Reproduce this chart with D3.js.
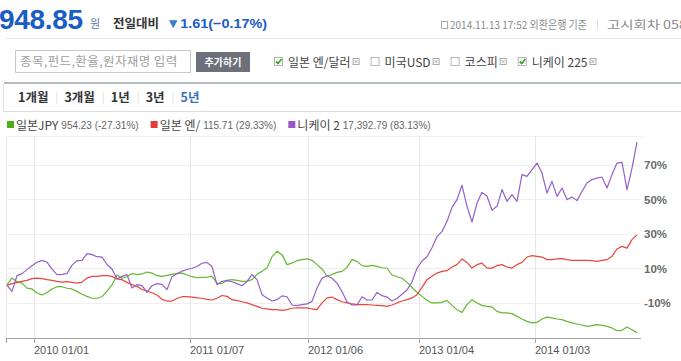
<!DOCTYPE html>
<html><head><meta charset="utf-8">
<script src="https://cdn.jsdelivr.net/npm/d3@7"></script>
<style>
body{margin:0;background:#fff;overflow:hidden}
svg{display:block}
</style></head><body>
<svg id="c" width="681" height="361"></svg>
<script>
// ---------- data ----------
const seriesNames = ["일본JPY", "일본 엔/", "니케이 2"];
const legendValues = ["954.23 (-27.31%)", "115.71 (29.33%)", "17,392.79 (83.13%)"];
const jpy = [0.5,4.3,2.2,1.4,-1.5,-2.0,-4.3,-5.5,-4.0,-2.0,
 -0.7,-0.7,-1.6,-2.0,-3.4,-5.1,-6.3,-7.4,-7.4,-6.5,
 -3.2,0.3,6.1,4.2,5.1,6.9,6.3,6.7,7.8,7.2,
 5.7,5.3,5.9,6.5,6.9,7.2,6.1,5.1,4.5,4.7,
 4.8,5.3,1.4,1.1,3.0,3.4,3.0,2.4,2.4,3.4,
 6.5,8.2,10.1,16.7,19.8,17.9,12.1,13.0,14.4,15.0,
 15.4,14.6,12.1,9.6,5.5,6.3,7.6,8.2,10.5,15.0,
 14.0,11.5,11.1,11.7,11.1,10.3,10.0,6.1,5.1,4.2,
 1.8,-1.0,-4.0,-6.3,-8.6,-10.1,-10.1,-9.8,-8.6,-11.5,
 -14.0,-15.6,-11.1,-8.2,-10.1,-11.5,-12.1,-12.5,-15.0,-15.9,
 -15.9,-16.3,-17.9,-19.4,-20.8,-21.7,-21.4,-19.4,-18.3,-18.8,
 -19.4,-19.8,-20.8,-21.7,-22.3,-22.9,-23.7,-23.3,-22.7,-23.1,
 -23.7,-24.6,-26.2,-26.0,-24.1,-25.6,-27.31];
const usdjpy = [0.1,1.1,1.8,2.4,3.0,4.0,4.3,4.0,3.4,3.0,
 2.4,2.0,2.2,1.8,1.4,2.0,4.3,5.3,5.3,5.7,
 5.7,5.3,3.8,3.4,1.8,0.5,-0.5,-2.3,-3.2,-4.2,
 -5.5,-8.0,-9.0,-9.0,-7.5,-6.5,-6.5,-6.7,-7.2,-7.4,
 -8.0,-8.4,-7.4,-5.8,-6.3,-8.2,-8.8,-9.4,-10.1,-11.1,
 -12.1,-13.2,-13.6,-14.0,-14.0,-14.4,-14.0,-13.2,-12.9,-13.0,
 -13.0,-13.6,-14.0,-10.1,-7.2,-6.7,-8.2,-9.4,-10.1,-10.7,
 -11.1,-11.1,-11.1,-11.3,-11.5,-11.7,-12.1,-11.3,-10.1,-9.0,
 -8.2,-7.2,-5.3,-1.1,3.4,5.3,7.2,8.2,8.6,10.7,
 12.1,15.4,13.4,10.1,12.1,13.0,10.1,10.1,11.5,12.1,
 10.7,10.1,12.1,13.4,16.5,17.3,16.9,16.5,15.0,15.0,
 15.4,15.6,15.0,14.6,14.6,14.6,14.6,14.4,14.0,14.6,
 15.0,16.9,21.2,22.7,21.7,26.6,29.33];
const nikkei = [0.1,-3.4,5.7,6.9,9.2,11.5,13.5,14.6,13.5,9.5,
 6.3,6.5,6.9,11.8,14.4,14.6,18.5,17.9,16.7,16.5,
 12.2,9.6,3.8,5.3,6.3,-1.4,0.5,-0.1,-4.0,-0.1,
 1.1,0.7,-2.4,5.1,6.9,8.3,9.3,10.0,11.0,12.9,
 13.4,11.0,0.5,2.4,2.8,2.2,1.1,-0.1,2.4,6.3,
 3.4,-5.3,-7.2,-9.0,-8.2,-6.0,-6.5,-11.3,-11.7,-11.1,
 -10.7,-9.2,-1.4,4.2,5.7,4.2,1.4,-3.6,-9.4,-11.3,
 -11.3,-6.5,-8.4,-8.4,-4.0,-5.9,-6.7,-9.0,-7.5,-5.1,
 -2.6,2.2,10.0,14.2,16.7,21.9,28.3,31.2,37.2,45.3,
 49.8,58.1,45.9,36.8,47.8,54.0,51.7,43.6,45.9,55.6,
 48.8,52.7,48.8,64.3,63.3,67.2,71.0,65.2,53.6,60.4,
 51.7,56.5,49.8,51.3,49.2,54.6,59.4,61.4,62.3,62.9,
 56.5,64.3,71.0,71.4,55.6,68.0,83.13];
const xTickLabels = ["2010 01/01", "2011 01/07", "2012 01/06", "2013 01/04", "2014 01/03"];
const xTickIndex = [5.4, 36.6, 60.2, 82.4, 105.6];
const yTicks = [-10, 10, 30, 50, 70];
const periods = ["1개월", "3개월", "1년", "3년", "5년"];
const compareNames = ["일본 엔/달러", "미국USD", "코스피", "니케이 225"];
const compareChecked = [true, false, false, true];

// ---------- drawing ----------
const svg = d3.select("#c");
const KR = "'Noto Sans CJK KR', 'Noto Sans', sans-serif";
const LS = "'Liberation Sans', Arial, sans-serif";
const blue = "#1b5cc6";
const colors = ["#64b832", "#e8463e", "#9360c9"];
const legendColors = ["#4fae1c", "#e53a3a", "#9b55c8"];

// header
svg.append("text").attr("x", -1).attr("y", 29).attr("font-family", LS).attr("font-weight", "bold")
  .attr("font-size", 28).attr("letter-spacing", -0.3).attr("fill", blue).text("948.85");
svg.append("text").attr("x", 90).attr("y", 28).attr("font-family", KR).attr("font-size", 11)
  .attr("fill", "#5f79a8").text("원");
svg.append("text").attr("x", 113).attr("y", 28).attr("font-family", KR).attr("font-size", 12.5)
  .attr("font-weight", "bold").attr("fill", "#333").text("전일대비");
const chg = svg.append("text").attr("x", 166).attr("y", 28).attr("font-family", LS).attr("font-size", 13.5)
  .attr("font-weight", "bold").attr("fill", blue).attr("textLength", 101).attr("lengthAdjust", "spacingAndGlyphs");
chg.append("tspan").attr("fill", "#3f78d0").text("▼");
chg.append("tspan").text("1.61(−0.17%)");

// right info
svg.append("rect").attr("x", 441.5).attr("y", 21.5).attr("width", 6).attr("height", 7)
  .attr("fill", "none").attr("stroke", "#aaa");
svg.append("text").attr("x", 450).attr("y", 29).attr("font-family", KR).attr("font-size", 11)
  .attr("fill", "#8a8a8a").attr("textLength", 137).attr("lengthAdjust", "spacingAndGlyphs")
  .text("2014.11.13 17:52 외환은행 기준");
svg.append("line").attr("x1", 597.5).attr("x2", 597.5).attr("y1", 20).attr("y2", 30).attr("stroke", "#ddd");
svg.append("text").attr("x", 607).attr("y", 29).attr("font-family", KR).attr("font-size", 11.5)
  .attr("fill", "#8a8a8a").attr("textLength", 80).attr("lengthAdjust", "spacingAndGlyphs").text("고시회차 058");
svg.append("line").attr("x1", 5).attr("x2", 681).attr("y1", 38.5).attr("y2", 38.5).attr("stroke", "#e8e8e8");

// search row
svg.append("rect").attr("x", 15.5).attr("y", 50.5).attr("width", 175).attr("height", 22)
  .attr("fill", "#fff").attr("stroke", "#c9c9c9");
svg.append("text").attr("x", 20).attr("y", 66).attr("font-family", KR).attr("font-size", 12.5)
  .attr("letter-spacing", 0.4).attr("fill", "#a0a0a0").text("종목,펀드,환율,원자재명 입력");
svg.append("rect").attr("x", 196).attr("y", 52).attr("width", 54).attr("height", 20).attr("fill", "#6d707a");
svg.append("text").attr("x", 223).attr("y", 65.5).attr("text-anchor", "middle").attr("font-family", KR)
  .attr("font-size", 10).attr("font-weight", "bold").attr("fill", "#fff").text("추가하기");

let cx = 274;
compareNames.forEach((n, i) => {
  const g = svg.append("g");
  g.append("rect").attr("x", cx + 0.5).attr("y", 57.5).attr("width", 8).attr("height", 8)
    .attr("fill", "#fff").attr("stroke", "#b5b5b5");
  if (compareChecked[i]) {
    g.append("path").attr("d", `M${cx + 2},${61.5} L${cx + 4},${63.5} L${cx + 7.5},${59}`)
      .attr("fill", "none").attr("stroke", "#3aa52a").attr("stroke-width", 1.8);
  }
  const t = g.append("text").attr("x", cx + 14).attr("y", 66.5).attr("font-family", KR)
    .attr("font-size", 12).attr("fill", "#444").text(n);
  const w = t.node().getComputedTextLength();
  const bx = cx + 14 + w + 2;
  g.append("rect").attr("x", bx + 0.5).attr("y", 58.5).attr("width", 6).attr("height", 6)
    .attr("fill", "#fff").attr("stroke", "#aaa");
  g.append("path").attr("d", `M${bx + 2},${60} L${bx + 5},${63} M${bx + 5},${60} L${bx + 2},${63}`)
    .attr("stroke", "#999").attr("stroke-width", 0.8);
  cx = bx + 18;
});

svg.append("rect").attr("x", 4).attr("y", 82).attr("width", 677).attr("height", 2).attr("fill", "#b3bac2");

// period tabs
svg.append("line").attr("x1", 3.5).attr("x2", 3.5).attr("y1", 84).attr("y2", 111).attr("stroke", "#e2e2e2");
svg.append("line").attr("x1", 3).attr("x2", 681).attr("y1", 111.5).attr("y2", 111.5).attr("stroke", "#dcdcdc");
let px = 18;
periods.forEach((p, i) => {
  const t = svg.append("text").attr("x", px).attr("y", 102).attr("font-family", KR).attr("font-size", 12.5)
    .attr("font-weight", "bold").attr("fill", i === periods.length - 1 ? "#3b6fb8" : "#333").text(p);
  const w = t.node().getComputedTextLength();
  if (i < periods.length - 1) {
    svg.append("line").attr("x1", px + w + 8.5).attr("x2", px + w + 8.5).attr("y1", 92).attr("y2", 104)
      .attr("stroke", "#e3e3e3");
  }
  px += w + 16;
});

// legend
let lx = 7;
seriesNames.forEach((n, i) => {
  svg.append("rect").attr("x", lx).attr("y", 121).attr("width", 7).attr("height", 7).attr("fill", legendColors[i]);
  const t = svg.append("text").attr("x", lx + 9).attr("y", 129.5).attr("font-family", KR).attr("font-size", 12)
    .attr("fill", "#444").text(n);
  const w = t.node().getComputedTextLength();
  const v = svg.append("text").attr("x", lx + 9 + w + 3).attr("y", 129).attr("font-family", LS).attr("font-size", 10)
    .attr("fill", "#666").text(legendValues[i]);
  const w2 = v.node().getComputedTextLength();
  lx = lx + 9 + w + 3 + w2 + 12;
});

// chart
const x = d3.scaleLinear().domain([0, jpy.length - 1]).range([7, 637]);
const y = d3.scaleLinear().domain([-30.43, 86.67]).range([338, 136]);
const left = 6, right = 641;

const grid = svg.append("g");
grid.append("line").attr("x1", left).attr("x2", 643).attr("y1", 136.5).attr("y2", 136.5).attr("stroke", "#f0f0f0");
grid.selectAll(".hg").data(yTicks).join("line")
  .attr("x1", left).attr("x2", right).attr("y1", d => Math.round(y(d)) + 0.5).attr("y2", d => Math.round(y(d)) + 0.5)
  .attr("stroke", "#efefef");
grid.append("line").attr("x1", left + 0.5).attr("x2", left + 0.5).attr("y1", 136).attr("y2", 338).attr("stroke", "#e6e6e6");
grid.selectAll(".vg").data(xTickIndex).join("line")
  .attr("x1", d => Math.round(x(d)) + 0.5).attr("x2", d => Math.round(x(d)) + 0.5)
  .attr("y1", 136).attr("y2", 338).attr("stroke", "#e6e6e6");

const line = d3.line().x((d, i) => x(i)).y(d => y(d));
[jpy, usdjpy, nikkei].forEach((s, i) => {
  svg.append("path").datum(s).attr("d", line).attr("fill", "none").attr("stroke", colors[i])
    .attr("stroke-width", 1.2).attr("stroke-linejoin", "round");
});

// x axis
const ax = svg.append("g");
ax.append("line").attr("x1", left).attr("x2", right).attr("y1", 338.5).attr("y2", 338.5).attr("stroke", "#a5a5a5");
ax.append("line").attr("x1", left + 0.5).attr("x2", left + 0.5).attr("y1", 338).attr("y2", 343).attr("stroke", "#a5a5a5");
ax.selectAll(".tk").data(xTickIndex).join("line")
  .attr("x1", d => Math.round(x(d)) + 0.5).attr("x2", d => Math.round(x(d)) + 0.5)
  .attr("y1", 338).attr("y2", 343).attr("stroke", "#a5a5a5");
ax.selectAll(".tl").data(xTickLabels).join("text")
  .attr("x", (d, i) => Math.round(x(xTickIndex[i]))).attr("y", 354)
  .attr("font-family", LS).attr("font-size", 11).attr("fill", "#555").text(d => d);

// y axis labels (right)
svg.selectAll(".yl").data(yTicks).join("text")
  .attr("x", 644).attr("y", d => y(d) + 4.5)
  .attr("font-family", LS).attr("font-size", 11.5).attr("font-weight", "bold").attr("fill", "#6a6a6a")
  .text(d => d + "%");
</script>
</body></html>
